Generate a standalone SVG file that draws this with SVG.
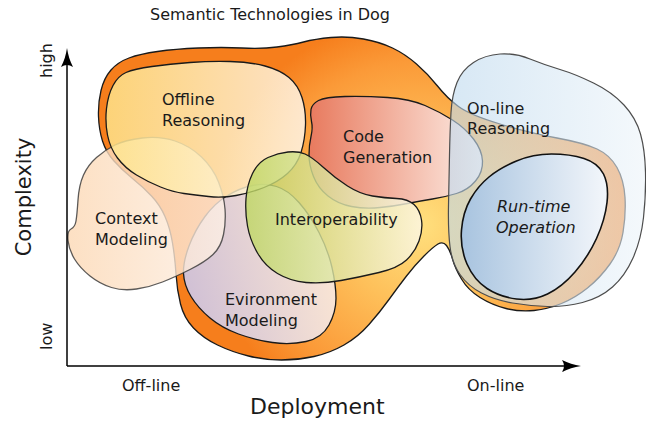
<svg xmlns="http://www.w3.org/2000/svg" width="646" height="421" viewBox="0 0 646 421">
<defs>
<style>
text{font-family:"DejaVu Sans","Liberation Sans",sans-serif;fill:#1a1a1a}
.lbl{font-size:16px}
.it{font-style:italic}
.dark{stroke:#1a1a1a;stroke-width:1.3}
.axis{stroke:#000;stroke-width:1.5;fill:none}
</style>
<radialGradient id="gOrange" gradientUnits="userSpaceOnUse" cx="420" cy="225" r="210">
<stop offset="0" stop-color="#ffe07e"/><stop offset="0.38" stop-color="#fec05a"/><stop offset="0.78" stop-color="#fb9a38"/><stop offset="1" stop-color="#f67e1c"/>
</radialGradient>
<linearGradient id="gEnv" gradientUnits="userSpaceOnUse" x1="183" y1="300" x2="336" y2="260"><stop offset="0" stop-color="#cfbfd5"/><stop offset="1" stop-color="#fbe6d4"/></linearGradient>
<linearGradient id="gCtx" gradientUnits="userSpaceOnUse" x1="68" y1="0" x2="226" y2="0"><stop offset="0" stop-color="#fcd8b4"/><stop offset="1" stop-color="#fdf0e6"/></linearGradient>
<linearGradient id="gOff" gradientUnits="userSpaceOnUse" x1="105" y1="0" x2="306" y2="0"><stop offset="0" stop-color="#fee68c"/><stop offset="1" stop-color="#fff8ee"/></linearGradient>
<linearGradient id="gCode" gradientUnits="userSpaceOnUse" x1="309" y1="0" x2="483" y2="0"><stop offset="0" stop-color="#e87a5e"/><stop offset="1" stop-color="#fdeee6"/></linearGradient>
<linearGradient id="gInt" gradientUnits="userSpaceOnUse" x1="245" y1="0" x2="423" y2="0"><stop offset="0" stop-color="#bdd660"/><stop offset="1" stop-color="#fdf8ea"/></linearGradient>
<linearGradient id="gOnl" gradientUnits="userSpaceOnUse" x1="448" y1="0" x2="646" y2="0"><stop offset="0" stop-color="#bed9ee"/><stop offset="1" stop-color="#eef5fa"/></linearGradient>
<linearGradient id="gRun" gradientUnits="userSpaceOnUse" x1="460" y1="0" x2="609" y2="0"><stop offset="0" stop-color="#a7c3df"/><stop offset="1" stop-color="#f4f7fb"/></linearGradient>
</defs>
<rect width="646" height="421" fill="#fff"/>
<text id="title" x="150" y="20" class="lbl">Semantic Technologies in Dog</text>

<g id="semantic-area">
<path class="dark" fill="url(#gOrange)" d="M101,90.5 Q104,78 111,70 Q118,62 129,58 Q140,54 157.5,51.5 Q175,49 198.5,48 Q222,47 242,48 Q262,49 277,47 Q292,45 303.5,42 Q315,39 331,37.5 Q347,36 363.5,39 Q380,42 392.5,48 Q405,54 416.5,64 Q428,74 437.5,86 Q447,98 458.5,106.5 Q470,115 500,124 Q530,133 557,138 Q584,143 597,149 Q610,155 617,167.5 Q624,180 625,197.5 Q626,215 623,232.5 Q620,250 610,264 Q600,278 587.5,288 Q575,298 561.5,303.5 Q548,309 534,310.5 Q520,312 506,308.5 Q492,305 480,297.5 Q468,290 461.5,279 Q455,268 452.5,259 Q450,250 446.5,245.5 Q443,241 438,244 Q433,247 424,256 Q415,265 406.5,276 Q398,287 389,299.5 Q380,312 369,324.5 Q358,337 344,345 Q330,353 314,356.5 Q298,360 281.5,360 Q265,360 248.5,356 Q232,352 217.5,345 Q203,338 193.5,328 Q184,318 180.5,304 Q177,290 176,274 Q175,258 172.5,243 Q170,228 165,216.5 Q160,205 151.5,196 Q143,187 132.5,178.5 Q122,170 114,161 Q106,152 102.5,141 Q99,130 98.5,116.5 Q98,103 101,90.5 Z"/>
</g>

<g id="environment-modeling">
<path class="dark" fill="url(#gEnv)" d="M183.5,273.5 Q183,262 189,246 Q195,230 205,216.5 Q215,203 227.5,195.5 Q240,188 252.5,185.5 Q265,183 276.5,186.5 Q288,190 299,202.5 Q310,215 319,232.5 Q328,250 332,267.5 Q336,285 336,298.5 Q336,312 329,325 Q322,338 306,341.5 Q290,345 272.5,342.5 Q255,340 238.5,334 Q222,328 210,318 Q198,308 191,296.5 Q184,285 183.5,273.5 Z"/>
<text class="lbl" x="225" y="305">Evironment</text>
<text class="lbl" x="225" y="326">Modeling</text>
</g>

<g id="context-modeling">
<path fill="url(#gCtx)" fill-opacity="0.8" stroke="#333" stroke-opacity="0.8" stroke-width="1.3" d="M96.5,157.5 Q105,150 115,145 Q125,140 142.5,138 Q160,136 175,141 Q190,146 201.5,157 Q213,168 218.5,182 Q224,196 225,209 Q226,222 223.5,234.5 Q221,247 213,254.5 Q205,262 190,269.5 Q175,277 162.5,282 Q150,287 136.5,289 Q123,291 111.5,287.5 Q100,284 90,276 Q80,268 74.5,259 Q69,250 68,240.5 Q67,231 71,229 Q75,227 76,221 Q77,215 78,200 Q79,185 83.5,175 Q88,165 96.5,157.5 Z"/>
<text class="lbl" x="95" y="224">Context</text>
<text class="lbl" x="95" y="245">Modeling</text>
</g>

<g id="offline-reasoning">
<path class="dark" fill="url(#gOff)" fill-opacity="0.82" d="M126,72.5 Q134,69 152,66.5 Q170,64 190,62.5 Q210,61 230,61.5 Q250,62 265,66 Q280,70 289,77.5 Q298,85 302,97.5 Q306,110 305.5,125 Q305,140 301,152.5 Q297,165 287.5,173.5 Q278,182 264,187.5 Q250,193 236,195.5 Q222,198 208.5,196.5 Q195,195 184,193.5 Q173,192 160.5,187 Q148,182 136.5,175 Q125,168 117.5,158 Q110,148 107.5,135 Q105,122 106.5,108.5 Q108,95 113,85.5 Q118,76 126,72.5 Z"/>
<text class="lbl" x="162" y="105">Offline</text>
<text class="lbl" x="162" y="126">Reasoning</text>
</g>

<g id="code-generation">
<path class="dark" fill="url(#gCode)" d="M311,109.5 Q312,104 318.5,100.5 Q325,97 345,96.5 Q365,96 387.5,97.5 Q410,99 425,105.5 Q440,112 452.5,120 Q465,128 473.5,139 Q482,150 482.5,161 Q483,172 475.5,181 Q468,190 456.5,193.5 Q445,197 432.5,199 Q420,201 407.5,203.5 Q395,206 380,207.5 Q365,209 351.5,206.5 Q338,204 328,196 Q318,188 313.5,176.5 Q309,165 309,155 Q309,145 311,136.5 Q313,128 311.5,121.5 Q310,115 311,109.5 Z"/>
<text class="lbl" x="343" y="142">Code</text>
<text class="lbl" x="343" y="163">Generation</text>
</g>

<g id="interoperability">
<path class="dark" fill="url(#gInt)" fill-opacity="0.8" d="M246,198.5 Q247,185 252.5,173.5 Q258,162 268,157.5 Q278,153 288,152 Q298,151 305,154 Q312,157 323.5,167.5 Q335,178 347.5,186 Q360,194 372.5,196 Q385,198 396.5,198.5 Q408,199 414,204.5 Q420,210 421.5,220 Q423,230 419,241 Q415,252 406.5,260 Q398,268 379,272.5 Q360,277 341,280.5 Q322,284 306,282.5 Q290,281 277.5,273.5 Q265,266 257.5,253 Q250,240 247.5,226 Q245,212 246,198.5 Z"/>
<text class="lbl" x="275" y="225">Interoperability</text>
</g>

<g id="online-reasoning">
<path fill="url(#gOnl)" fill-opacity="0.62" stroke="#4d4d4d" stroke-width="1.2" d="M451,112.5 Q452,95 457,82.5 Q462,70 473.5,62.5 Q485,55 500,54 Q515,53 530,59 Q545,65 560,69.5 Q575,74 593.5,83 Q612,92 624,105 Q636,118 640.5,134 Q645,150 645.5,172.5 Q646,195 643.5,217.5 Q641,240 633,258 Q625,276 612.5,287 Q600,298 582.5,302.5 Q565,307 547.5,306.5 Q530,306 512.5,303 Q495,300 481.5,293 Q468,286 460,274.5 Q452,263 450,246.5 Q448,230 448.5,205 Q449,180 449.5,155 Q450,130 451,112.5 Z"/>
<text class="lbl" x="467" y="114">On-line</text>
<text class="lbl" x="467" y="134">Reasoning</text>
</g>

<g id="run-time-operation">
<path fill="url(#gRun)" stroke="#111" stroke-width="1.6" d="M489,177 Q500,168 516.5,161 Q533,154 551.5,154 Q570,154 584,158.5 Q598,163 603.5,174 Q609,185 607,202.5 Q605,220 596.5,238.5 Q588,257 575,272 Q562,287 547.5,294 Q533,301 516.5,299 Q500,297 487,288.5 Q474,280 467,264 Q460,248 461.5,230 Q463,212 470.5,199 Q478,186 489,177 Z"/>
<text class="lbl it" x="497" y="212">Run-time</text>
<text class="lbl it" x="496" y="233">Operation</text>
</g>

<g id="axes">
<path class="axis" d="M67,366 V60"/>
<path class="axis" d="M67,366 H570"/>
<path fill="#000" d="M67,48 C68,55 70,61 73,67 Q67,63 61,67 C64,61 66,55 67,48 Z"/>
<path fill="#000" d="M581,366 C574,367 568,369 562,372 Q566,366 562,360 C568,363 574,365 581,366 Z"/>
<text class="lbl" transform="translate(52,78) rotate(-90)">high</text>
<text class="lbl" transform="translate(52,350) rotate(-90)">low</text>
<text style="font-size:21px" text-anchor="middle" transform="translate(31,197) rotate(-90)">Complexity</text>
<text class="lbl" x="122" y="391">Off-line</text>
<text class="lbl" x="467" y="391">On-line</text>
<text style="font-size:22px" x="250" y="414">Deployment</text>
</g>
</svg>
